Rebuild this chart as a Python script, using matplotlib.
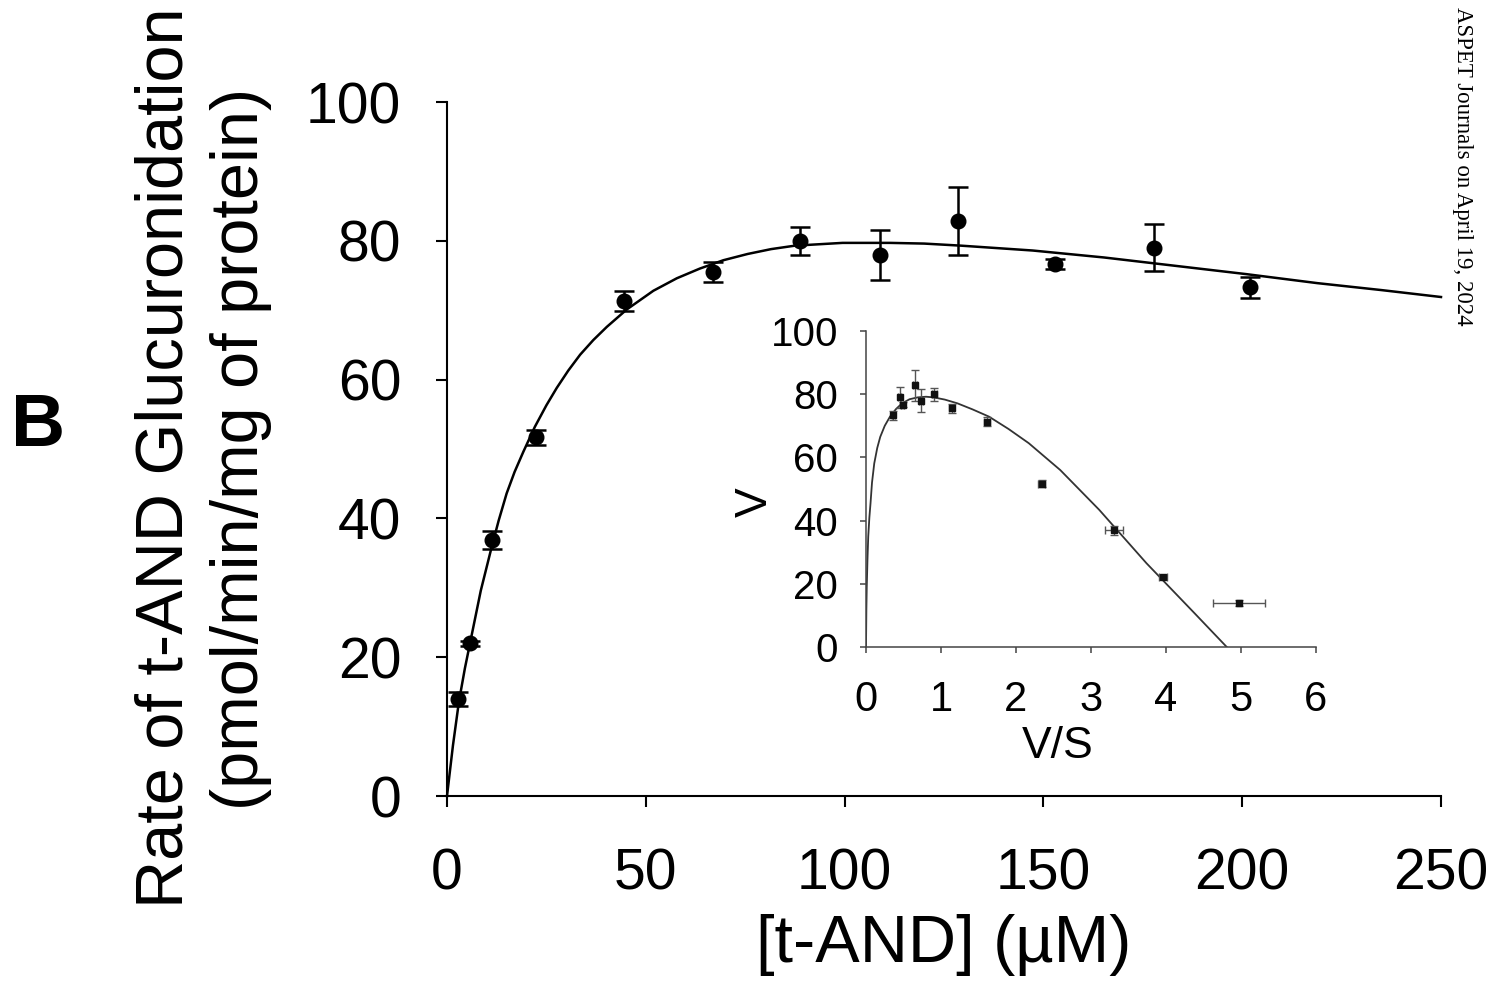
import matplotlib
matplotlib.use("Agg")
import matplotlib.pyplot as plt

plt.rcParams['font.family'] = ['Liberation Sans', 'DejaVu Sans']

# substrate concentration (uM) and rate (pmol/min/mg)
conc = [2.8, 5.8, 11.4, 22.4, 44.6, 66.8, 88.9, 108.8, 128.6, 152.9, 177.9, 202.0]
rate = [14.0, 22.0, 36.9, 51.7, 71.3, 75.5, 80.0, 78.0, 82.9, 76.7, 79.0, 73.3]
rate_sd = [1.0, 0.4, 1.3, 1.1, 1.4, 1.4, 2.0, 3.6, 4.9, 0.7, 3.4, 1.5]

# fitted curve
fit_x = [0, 1.5, 3.0, 4.5, 6.0, 8.5, 11.2, 13.0, 15.0, 17.0, 19.2, 22.1, 25.0, 27.6,
         30.5, 33.5, 36.8, 40.2, 45.2, 51.9, 57.8, 63.6, 69.5, 75.6, 81.5, 87.5,
         99.5, 111.4, 120.0, 129.3, 147.3, 165.2, 183.1, 201.0, 218.9, 235.0, 250]
fit_y = [0, 7.3, 13.6, 18.4, 22.6, 29.6, 35.8, 39.7, 43.6, 46.7, 49.6, 53.2, 56.3, 58.8,
         61.3, 63.6, 65.7, 67.6, 70.1, 72.8, 74.6, 76.0, 77.2, 78.1, 78.8, 79.3,
         79.7, 79.7, 79.6, 79.3, 78.6, 77.6, 76.4, 75.2, 73.9, 72.9, 71.9]

# Eadie-Hofstee inset (V vs V/S)
vs = [4.97, 3.96, 3.31, 2.34, 1.61, 1.14, 0.91, 0.73, 0.65, 0.49, 0.45, 0.36]
vs_err = [0.35, 0.05, 0.12, 0.05, 0.04, 0.03, 0.03, 0.03, 0.03, 0.02, 0.02, 0.02]
eh_x = [0.0, 0.005, 0.01, 0.02, 0.03, 0.045, 0.06, 0.08, 0.11, 0.15, 0.19, 0.25, 0.32,
        0.40, 0.48, 0.58, 0.69, 0.80, 0.90, 1.05, 1.22, 1.42, 1.64, 1.90, 2.17, 2.59,
        3.11, 3.74, 4.38, 4.81]
eh_y = [0, 12, 19, 28, 35, 41, 45.4, 52, 58.1, 63, 66.5, 70.0, 72.9,
        75.3, 77.1, 78.4, 79.0, 79.2, 79.0, 78.3, 77.1, 75.2, 72.9, 69.0, 64.5, 56.0,
        43.4, 26.5, 10.7, 0.0]

W, H = 1495, 993
fig = plt.figure(figsize=(W / 100, H / 100), dpi=100)

# main panel
ax = fig.add_axes([447 / W, 1 - 796 / H, 994 / W, 694 / H])
ax.plot(fit_x, fit_y, color='black', lw=1.8, clip_on=False, zorder=2)
ax.errorbar(conc, rate, yerr=rate_sd, fmt='o', color='black', ms=10.5,
            elinewidth=1.8, capsize=7.5, capthick=1.8, zorder=3)
ax.set_xlim(0, 250)
ax.set_ylim(0, 100)
ax.set_xticks([0, 50, 100, 150, 200, 250])
ax.set_yticks([0, 20, 40, 60, 80, 100])
for s in ['top', 'right']:
    ax.spines[s].set_visible(False)
for s in ['left', 'bottom']:
    ax.spines[s].set_linewidth(1.5)
ax.tick_params(axis='both', direction='out', length=8, width=1.5, labelsize=41)
ax.tick_params(axis='x', pad=29)
ax.tick_params(axis='y', pad=25)
ax.set_xlabel('[t-AND] (µM)', fontsize=48)
ax.xaxis.set_label_coords(0.5, -0.17)

fig.text(166 / W, 1 - 458 / H, 'Rate of t-AND Glucuronidation', rotation=90,
         ha='center', va='center', fontsize=48)
fig.text(241 / W, 1 - 449 / H, '(pmol/min/mg of protein)', rotation=90,
         ha='center', va='center', fontsize=48)
fig.text(38 / W, 1 - 426 / H, 'B', fontsize=54, fontweight='bold',
         ha='center', va='center')

# inset
axi = fig.add_axes([866 / W, 1 - 647 / H, 450 / W, 316 / H])
axi.plot(eh_x, eh_y, color='#333333', lw=1.3, zorder=2)
axi.errorbar(vs, rate, xerr=vs_err, yerr=rate_sd, fmt='s', color='#111111',
             ms=4, ecolor='#555555', elinewidth=1.0, capsize=3, capthick=1.0, zorder=3)
axi.set_xlim(0, 6)
axi.set_ylim(0, 100)
axi.set_xticks(range(0, 7))
axi.set_yticks([0, 20, 40, 60, 80, 100])
axi.patch.set_alpha(0)
for s in ['top', 'right']:
    axi.spines[s].set_visible(False)
for s in ['left', 'bottom']:
    axi.spines[s].set_linewidth(1.1)
    axi.spines[s].set_color('#444444')
axi.tick_params(axis='both', direction='out', length=4, width=1.1, color='#444444')
axi.tick_params(axis='x', labelsize=30, pad=20)
axi.tick_params(axis='y', labelsize=29, pad=16)
axi.set_xlabel('V/S', fontsize=32)
axi.xaxis.set_label_coords(0.427, -0.25)
axi.set_ylabel('V', fontsize=32)
axi.yaxis.set_label_coords(-0.2, 0.459)

# watermark on the right edge
fig.text(1462 / W, 1 - 166 / H, 'ASPET Journals on April 19, 2024', rotation=270,
         ha='center', va='center', fontsize=16.5, family='Liberation Serif')

fig.savefig('out.png', dpi=100)
